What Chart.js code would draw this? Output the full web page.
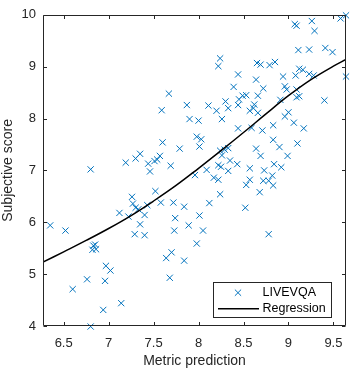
<!DOCTYPE html>
<html><head><meta charset="utf-8">
<script src="https://cdn.jsdelivr.net/npm/chart.js@4/dist/chart.umd.min.js"></script>
<style>html,body{margin:0;padding:0;background:#fff;overflow:hidden}#wrap{width:354px;height:373px;position:relative}</style>
</head><body><div id="wrap"><canvas id="c" width="354" height="373"></canvas></div>
<script>
const seriesName = 'LIVEVQA';
const fitName = 'Regression';
const xTitle = 'Metric prediction';
const yTitle = 'Subjective score';
const xTickValues = [6.5, 7, 7.5, 8, 8.5, 9, 9.5];
const yTickValues = [4, 5, 6, 7, 8, 9, 10];
const xRange = [6.27, 9.64];
const yRange = [4, 10];

const metricPred = [6.80,7.19,7.30,7.35,7.44,7.46,7.51,7.54,7.57,7.59,7.60,7.67,7.69,7.79,7.87,7.90,8.00,7.98,8.03,8.01,
8.24,8.22,8.44,8.65,8.69,8.79,8.85,9.07,9.09,9.26,9.29,9.58,9.64,9.11,9.23,9.41,9.49,9.64,8.94,9.08,
9.12,9.16,9.23,9.28,8.64,8.39,8.72,8.96,8.98,9.09,9.12,9.09,9.40,8.45,8.49,8.53,8.66,8.44,8.30,8.33,
8.11,8.20,8.26,8.62,8.61,8.57,8.66,8.91,9.00,8.96,9.06,9.17,8.44,8.59,8.71,8.83,8.83,8.90,9.10,8.24,
8.29,8.33,8.64,8.69,8.99,8.26,8.35,8.22,8.25,8.33,8.43,8.09,8.57,8.73,8.84,8.92,7.96,8.17,8.22,8.53,
8.57,8.72,8.78,8.82,8.83,8.68,8.24,8.12,8.52,8.01,8.05,7.98,8.78,7.72,7.84,7.74,7.89,7.73,7.70,7.84,
7.68,7.64,7.52,7.26,7.27,7.33,7.30,7.43,7.58,7.12,7.22,7.40,7.35,7.29,7.40,6.35,6.52,6.83,6.85,6.86,
6.82,6.97,7.02,6.76,6.96,6.60,6.94,6.80,7.14];
const subjScore = [7.02,7.15,7.23,7.32,7.13,6.98,7.18,7.21,7.28,8.16,7.54,8.48,7.09,7.42,8.26,7.99,7.96,7.65,7.60,7.46,
9.16,9.01,8.85,9.07,9.04,9.03,9.09,9.82,9.79,9.88,9.69,9.93,9.99,9.32,9.33,9.36,9.28,8.81,8.81,8.83,
8.96,8.94,8.86,8.83,8.75,8.61,8.58,8.62,8.56,8.56,8.43,8.41,8.35,8.37,8.44,8.45,8.44,8.26,8.33,8.20,
8.25,8.15,7.99,8.27,8.20,8.15,8.11,8.36,8.12,8.04,7.92,7.81,7.81,7.82,7.77,7.87,7.59,7.45,7.52,7.38,
7.40,7.43,7.42,7.28,7.28,7.29,7.19,7.10,7.07,6.99,7.12,7.01,7.04,7.00,7.12,7.06,6.91,6.86,6.82,6.72,
6.82,6.80,6.80,6.90,6.71,6.58,6.54,6.37,6.28,6.13,5.84,5.59,5.77,6.38,6.30,6.08,5.94,5.84,5.42,5.26,
4.93,5.31,6.60,6.49,6.36,6.25,6.28,6.33,6.38,6.18,6.11,6.14,5.96,5.77,5.75,5.94,5.84,5.55,5.57,5.48,
5.47,5.16,5.07,4.90,4.87,4.71,4.31,3.99,4.44];

const fitX = [6.27, 6.5, 6.75, 7.0, 7.25, 7.5, 7.75, 8.0, 8.25, 8.5, 8.75, 9.0, 9.25, 9.5, 9.64];
const fitY = [5.23, 5.43, 5.65, 5.88, 6.13, 6.41, 6.71, 7.04, 7.38, 7.73, 8.09, 8.44, 8.75, 9.01, 9.14];

const FONT = 'Liberation Sans, Arial, Helvetica, sans-serif';
const AX = '#262626';
const BLUE = '#0072BD';

const boxPlugin = {
  id: 'matlabBox',
  afterDatasetsDraw(chart) {
    const {ctx, chartArea: a, scales} = chart;
    ctx.save();
    ctx.strokeStyle = AX;
    ctx.lineWidth = 1;
    ctx.beginPath();
    const L = Math.round(a.left) + 0.5, R = Math.round(a.right) - 0.5;
    const T = Math.round(a.top) + 0.5, B = Math.round(a.bottom) - 0.5;
    ctx.rect(L, T, R - L, B - T);
    const tl = 3.5;
    xTickValues.forEach(v => {
      const px = Math.round(scales.x.getPixelForValue(v)) + 0.5;
      ctx.moveTo(px, B); ctx.lineTo(px, B - tl);
      ctx.moveTo(px, T); ctx.lineTo(px, T + tl);
    });
    yTickValues.forEach(v => {
      const py = Math.round(scales.y.getPixelForValue(v)) + 0.5;
      ctx.moveTo(L, py); ctx.lineTo(L + tl, py);
      ctx.moveTo(R, py); ctx.lineTo(R - tl, py);
    });
    ctx.stroke();

    const bw = 118, bh = 35;
    const bx = Math.round(a.right) - 15 - bw, by = Math.round(a.bottom) - 9 - bh;
    ctx.fillStyle = '#fff';
    ctx.fillRect(bx, by, bw, bh);
    ctx.strokeStyle = AX;
    ctx.lineWidth = 1;
    ctx.strokeRect(bx + 0.5, by + 0.5, bw, bh);
    const ds = chart.data.datasets;
    const mx = bx + 25, my = by + 10.7, r = 4.4 * Math.SQRT1_2;
    ctx.strokeStyle = BLUE; ctx.lineWidth = 1;
    ctx.beginPath();
    ctx.moveTo(mx - r, my - r); ctx.lineTo(mx + r, my + r);
    ctx.moveTo(mx - r, my + r); ctx.lineTo(mx + r, my - r);
    ctx.stroke();
    ctx.strokeStyle = '#000'; ctx.lineWidth = 1.5;
    ctx.beginPath();
    ctx.moveTo(bx + 5, by + 26.7); ctx.lineTo(bx + 46, by + 26.7);
    ctx.stroke();
    ctx.fillStyle = '#000';
    ctx.font = '12.5px ' + FONT;
    ctx.textAlign = 'left'; ctx.textBaseline = 'middle';
    ctx.fillText(ds[1].label, bx + 49.5, my);
    ctx.fillText(ds[0].label, bx + 49.5, by + 26.7);
    ctx.restore();
  }
};

new Chart(document.getElementById('c'), {
  type: 'scatter',
  data: {
    datasets: [
      {
        type: 'line',
        label: fitName,
        data: fitX.map((x, i) => ({x, y: fitY[i]})),
        borderColor: '#000',
        borderWidth: 1.5,
        pointRadius: 0,
        fill: false,
        tension: 0.4,
        order: 0
      },
      {
        type: 'scatter',
        label: seriesName,
        data: metricPred.map((x, i) => ({x, y: subjScore[i]})),
        pointStyle: 'crossRot',
        pointRadius: 4.4,
        borderColor: BLUE,
        backgroundColor: BLUE,
        borderWidth: 1,
        clip: false,
        order: 1
      }
    ]
  },
  options: {
    responsive: false,
    animation: false,
    devicePixelRatio: 1,
    layout: {padding: {top: 8, right: 8, left: 0, bottom: 0}},
    plugins: {legend: {display: false}, tooltip: {enabled: false}},
    scales: {
      x: {
        type: 'linear', min: xRange[0], max: xRange[1],
        afterBuildTicks: s => { s.ticks = xTickValues.map(v => ({value: v})); },
        afterFit: s => { s.height = 47; },
        grid: {display: false, drawTicks: false, tickLength: 0},
        border: {display: false},
        ticks: {color: AX, font: {family: FONT, size: 13}, padding: 10, maxRotation: 0, autoSkip: false, callback: v => String(v)},
        title: {display: true, text: xTitle, color: AX, font: {family: FONT, size: 14}, padding: {top: 0, bottom: 3}}
      },
      y: {
        type: 'linear', min: yRange[0], max: yRange[1],
        afterBuildTicks: s => { s.ticks = yTickValues.map(v => ({value: v})); },
        afterFit: s => { s.width = 43; },
        grid: {display: false, drawTicks: false, tickLength: 0},
        border: {display: false},
        ticks: {color: AX, font: {family: FONT, size: 13}, padding: 7, autoSkip: false, callback: v => String(v)},
        title: {display: true, text: yTitle, color: AX, font: {family: FONT, size: 14}, padding: {top: 0, bottom: 0}}
      }
    }
  },
  plugins: [boxPlugin]
});
</script>
</body></html>
